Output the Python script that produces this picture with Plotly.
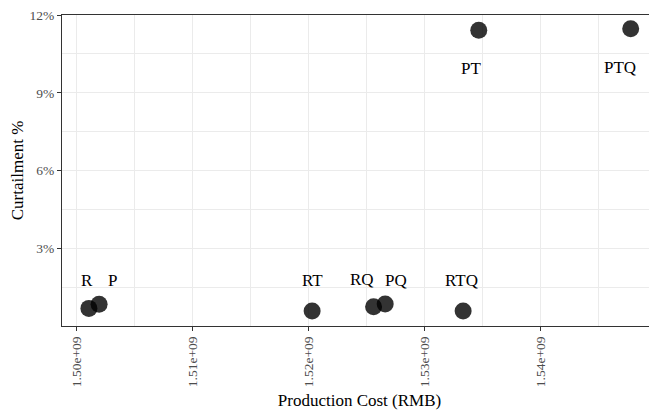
import plotly.graph_objects as go

scenarios = ["R", "P", "RT", "RQ", "PQ", "RTQ", "PT", "PTQ"]
production_cost = [1.50106e9, 1.50194e9, 1.52031e9, 1.52561e9, 1.52661e9, 1.53333e9, 1.53468e9, 1.54778e9]
curtailment = [0.0068, 0.00835, 0.00576, 0.00742, 0.00847, 0.00576, 0.1141, 0.1147]

x_tickvals = [1.50e9, 1.51e9, 1.52e9, 1.53e9, 1.54e9, 1.55e9]
x_ticktext = ["1.50e+09", "1.51e+09", "1.52e+09", "1.53e+09", "1.54e+09", "1.55e+09"]
y_tickvals = [0.03, 0.06, 0.09, 0.12]
y_ticktext = ["3%", "6%", "9%", "12%"]

# label pixel offsets (style)
label_dx = [-2, 13, 0, -12, 11, -2, -8, -11]
label_dy = [28, 24, 31, 27, 24, 31, -38, -39]

FONT = "Liberation Serif"

fig = go.Figure()
fig.add_trace(go.Scatter(
    x=production_cost, y=curtailment, mode="markers",
    marker=dict(size=17, color="rgba(0,0,0,0.8)", line=dict(width=0)),
    hoverinfo="x+y", showlegend=False,
))

for name, xv, yv, dx, dy in zip(scenarios, production_cost, curtailment, label_dx, label_dy):
    fig.add_annotation(x=xv, y=yv, text=name, showarrow=False,
                       xshift=dx, yshift=dy, xanchor="center", yanchor="middle",
                       font=dict(family=FONT, size=17, color="black"))

axis_common = dict(
    showline=True, linecolor="#333333", linewidth=1.1,
    ticks="outside", ticklen=4, tickcolor="#333333", tickwidth=1.1,
    tickfont=dict(family=FONT, size=13.5, color="#4d4d4d"),
    showgrid=True, gridcolor="#ebebeb", gridwidth=1.1,
    zeroline=False, ticklabeloverflow="allow",
)

fig.update_layout(
    width=649, height=405,
    margin=dict(l=54, r=0, t=7, b=87),
    paper_bgcolor="white", plot_bgcolor="white",
    font=dict(family=FONT),
    xaxis=dict(
        **axis_common,
        range=[1.49874e9, 1.55005e9],
        tickvals=x_tickvals, ticktext=x_ticktext, tickangle=-90,
        mirror=True,
        minor=dict(dtick=5e6, tick0=1.495e9, showgrid=True, gridcolor="#ebebeb", gridwidth=0.6, ticks=""),
        title=dict(text="Production Cost (RMB)", font=dict(family=FONT, size=17, color="black"), standoff=7),
        automargin=False,
    ),
    yaxis=dict(
        **axis_common,
        range=[0, 0.12003],
        tickvals=y_tickvals, ticktext=y_ticktext,
        minor=dict(dtick=0.015, tick0=0.0, showgrid=True, gridcolor="#ebebeb", gridwidth=0.6, ticks=""),
        title=dict(text="Curtailment %", font=dict(family=FONT, size=17, color="black"), standoff=12),
        automargin=False,
    ),
)

fig.write_html("out.html")
